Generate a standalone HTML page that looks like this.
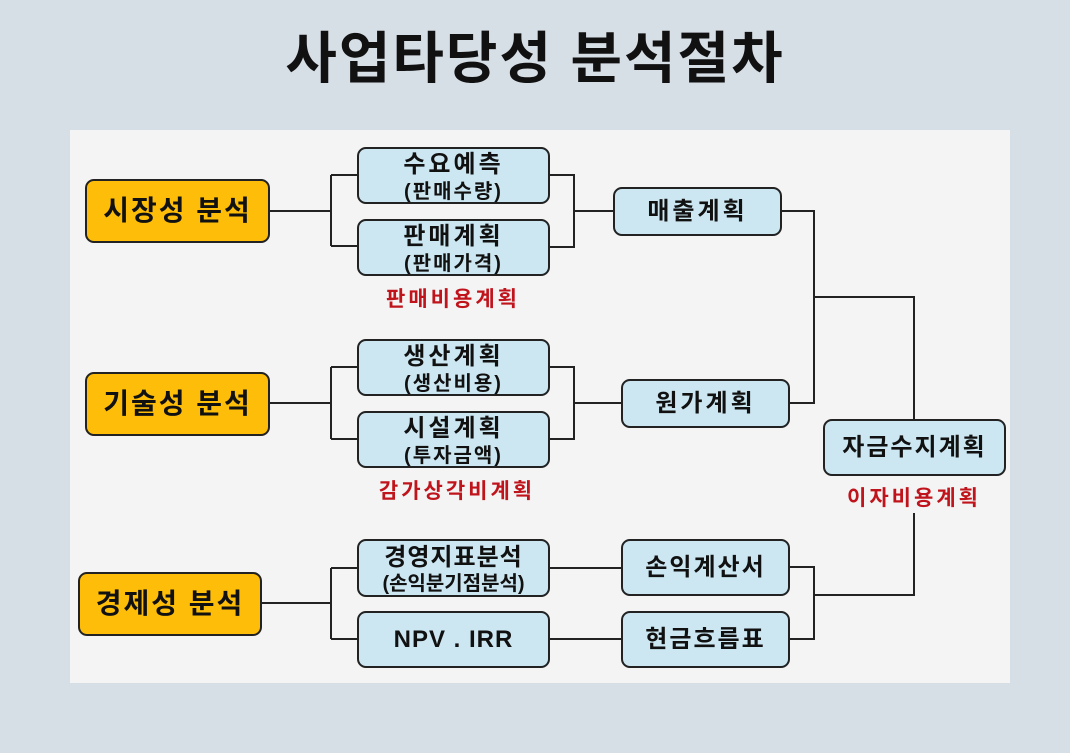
<!DOCTYPE html>
<html><head><meta charset="utf-8"><style>
body{margin:0;width:1070px;height:753px;background:#d6dee6;position:relative;overflow:hidden;font-family:"Liberation Sans","Noto Sans CJK KR",sans-serif;}
.title{position:absolute;left:0;width:1070px;top:14px;text-align:center;font-size:56px;font-weight:bold;color:#111;letter-spacing:2px;}
.panel{position:absolute;left:70px;top:130px;width:940px;height:553px;background:#f4f4f4;}
.b{position:absolute;box-sizing:border-box;border:2px solid #222;border-radius:9px;display:flex;align-items:center;justify-content:center;text-align:center;font-weight:bold;color:#111;line-height:1.05;}
.b>div{white-space:nowrap;}
.o{background:#fdbd08;font-size:28px;letter-spacing:2px;}
.c{background:#cce7f1;font-size:24px;letter-spacing:3px;}
.c small{font-size:20px;letter-spacing:2px;}
.t>div{padding-top:4px;}
.r{position:absolute;color:#c0141c;font-weight:bold;font-size:21px;letter-spacing:3px;transform:translateX(-50%);white-space:nowrap;}
svg{position:absolute;left:0;top:0;}
</style></head><body>
<div class="title">사업타당성 분석절차</div>
<div class="panel"></div>
<svg width="1070" height="753"><g stroke="#222" stroke-width="2" fill="none">
<path d="M269 211H331M331 175V246M331 175H357M331 246H357M549 175H574V247H549M574 211H613"/>
<path d="M269 403H331M331 367V439M331 367H357M331 439H357M549 367H574V439H549M574 403H621"/>
<path d="M261 603H331M331 568V639M331 568H357M331 639H357M549 568H621M549 639H621"/>
<path d="M781 211H814V403H789M814 297H914V419"/>
<path d="M789 567H814V639H789M814 595H914V513"/>
</g></svg>
<div class="b o" style="left:85px;top:179px;width:185px;height:64px"><div>시장성 분석</div></div>
<div class="b o" style="left:85px;top:372px;width:185px;height:64px"><div>기술성 분석</div></div>
<div class="b o" style="left:78px;top:572px;width:184px;height:64px"><div>경제성 분석</div></div>
<div class="b c t" style="left:357px;top:147px;width:193px;height:57px"><div>수요예측<br><small>(판매수량)</small></div></div>
<div class="b c t" style="left:357px;top:219px;width:193px;height:57px"><div>판매계획<br><small>(판매가격)</small></div></div>
<div class="b c t" style="left:357px;top:339px;width:193px;height:57px"><div>생산계획<br><small>(생산비용)</small></div></div>
<div class="b c t" style="left:357px;top:411px;width:193px;height:57px"><div>시설계획<br><small>(투자금액)</small></div></div>
<div class="b c t" style="left:357px;top:539px;width:193px;height:58px;letter-spacing:1px"><div>경영지표분석<br><small style="letter-spacing:0">(손익분기점분석)</small></div></div>
<div class="b c" style="left:357px;top:611px;width:193px;height:57px;letter-spacing:1px"><div>NPV . IRR</div></div>
<div class="b c" style="left:613px;top:187px;width:169px;height:49px"><div>매출계획</div></div>
<div class="b c" style="left:621px;top:379px;width:169px;height:49px"><div>원가계획</div></div>
<div class="b c" style="left:621px;top:539px;width:169px;height:57px;letter-spacing:2px"><div>손익계산서</div></div>
<div class="b c" style="left:621px;top:611px;width:169px;height:57px;letter-spacing:2px"><div>현금흐름표</div></div>
<div class="b c" style="left:823px;top:419px;width:183px;height:57px;font-size:24px;letter-spacing:2px"><div>자금수지계획</div></div>
<div class="r" style="left:453px;top:283px">판매비용계획</div>
<div class="r" style="left:457px;top:475px">감가상각비계획</div>
<div class="r" style="left:914px;top:482px">이자비용계획</div>
</body></html>
